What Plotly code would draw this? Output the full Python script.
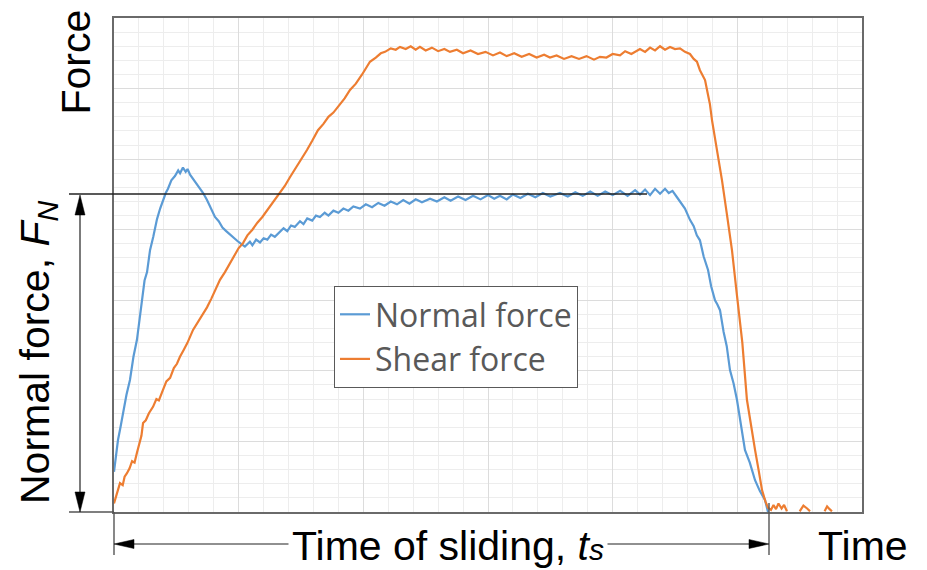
import plotly.graph_objects as go

# ---------------- data ----------------
normal_t = [0.000, 0.016, 0.032, 0.052, 0.072, 0.100, 0.128, 0.156, 0.184, 0.205, 0.225, 0.245,
            0.265, 0.289, 0.315, 0.345, 0.370, 0.393, 0.415, 0.433, 0.460, 0.489, 0.515, 0.530,
            0.553, 0.575, 0.590, 0.610, 0.635, 0.660, 0.690, 0.715, 0.746, 0.775, 0.810, 0.840,
            0.870, 0.900, 0.930, 0.960, 0.990, 1.020, 1.050, 1.067, 1.090, 1.110, 1.140, 1.171,
            1.200, 1.230, 1.260, 1.290, 1.332, 1.360, 1.390, 1.420, 1.450, 1.492, 1.520, 1.550,
            1.590, 1.620, 1.652, 1.690, 1.720, 1.760, 1.800, 1.840, 1.880, 1.920, 1.973, 2.020,
            2.070, 2.120, 2.170, 2.220, 2.270, 2.320, 2.370, 2.420, 2.470, 2.535, 2.590, 2.650,
            2.700, 2.760, 2.820, 2.880, 2.940, 3.000, 3.050, 3.096, 3.150, 3.200, 3.260, 3.320,
            3.380, 3.440, 3.500, 3.577, 3.640, 3.700, 3.760, 3.820, 3.880, 3.940, 4.000, 4.060,
            4.120, 4.180, 4.219, 4.260, 4.300, 4.340, 4.380, 4.420, 4.450, 4.480, 4.516, 4.550,
            4.580, 4.620, 4.650, 4.675, 4.700, 4.730, 4.765, 4.790, 4.821, 4.840, 4.861, 4.890,
            4.915, 4.941, 4.970, 4.997, 5.030, 5.061, 5.100, 5.142, 5.180, 5.222, 5.246]
normal_f = [0.57, 0.78, 1.02, 1.20, 1.40, 1.66, 1.87, 2.20, 2.44, 2.75, 3.00, 3.28,
            3.40, 3.71, 3.90, 4.15, 4.30, 4.42, 4.52, 4.58, 4.70, 4.76, 4.84, 4.80,
            4.88, 4.82, 4.86, 4.78, 4.72, 4.66, 4.58, 4.52, 4.42, 4.30, 4.18, 4.12,
            4.03, 3.98, 3.93, 3.88, 3.84, 3.80, 3.76, 3.79, 3.83, 3.78, 3.86, 3.82,
            3.88, 3.86, 3.93, 3.90, 3.98, 4.02, 3.98, 4.06, 4.04, 4.12, 4.08, 4.16,
            4.13, 4.20, 4.18, 4.24, 4.20, 4.27, 4.24, 4.30, 4.27, 4.33, 4.30, 4.36,
            4.32, 4.38, 4.34, 4.40, 4.36, 4.42, 4.37, 4.43, 4.39, 4.44, 4.40, 4.46,
            4.41, 4.47, 4.42, 4.48, 4.43, 4.49, 4.44, 4.48, 4.43, 4.50, 4.45, 4.51,
            4.46, 4.52, 4.47, 4.52, 4.47, 4.53, 4.48, 4.54, 4.48, 4.54, 4.49, 4.55,
            4.48, 4.56, 4.50, 4.57, 4.49, 4.58, 4.51, 4.58, 4.52, 4.55, 4.46, 4.38,
            4.30, 4.14, 4.05, 3.92, 3.85, 3.62, 3.43, 3.20, 3.00, 2.94, 2.86, 2.55,
            2.35, 2.01, 1.82, 1.59, 1.22, 0.88, 0.70, 0.45, 0.30, 0.17, 0.00]

shear_t = [0.000, 0.008, 0.025, 0.048, 0.070, 0.085, 0.104, 0.125, 0.145, 0.165, 0.184, 0.205,
           0.220, 0.233, 0.255, 0.280, 0.313, 0.340, 0.360, 0.393, 0.420, 0.450, 0.480, 0.505,
           0.529, 0.560, 0.590, 0.634, 0.670, 0.710, 0.746, 0.780, 0.815, 0.850, 0.890, 0.930,
           0.960, 1.000, 1.035, 1.070, 1.110, 1.150, 1.190, 1.230, 1.270, 1.332, 1.370, 1.410,
           1.450, 1.500, 1.548, 1.590, 1.636, 1.680, 1.720, 1.760, 1.813, 1.850, 1.893, 1.940,
           1.990, 2.053, 2.100, 2.140, 2.174, 2.220, 2.260, 2.294, 2.340, 2.380, 2.420, 2.454,
           2.500, 2.550, 2.600, 2.650, 2.695, 2.750, 2.800, 2.860, 2.920, 2.980, 3.040, 3.096,
           3.150, 3.210, 3.270, 3.330, 3.390, 3.450, 3.497, 3.550, 3.610, 3.670, 3.730, 3.790,
           3.850, 3.898, 3.950, 4.000, 4.059, 4.100, 4.150, 4.219, 4.260, 4.300, 4.340, 4.380,
           4.420, 4.460, 4.500, 4.540, 4.580, 4.620, 4.650, 4.676, 4.700, 4.720, 4.741, 4.765,
           4.780, 4.797, 4.837, 4.877, 4.917, 4.957, 4.997, 5.040, 5.077, 5.110, 5.142, 5.170,
           5.198, 5.225, 5.246, 5.270, 5.290, 5.310, 5.330, 5.355, 5.375, 5.398, None,
           5.500, 5.530, 5.560, 5.583, None, 5.700, 5.720, 5.740, 5.759]
shear_f = [0.12, 0.17, 0.30, 0.41, 0.38, 0.50, 0.55, 0.62, 0.72, 0.70, 0.84, 1.00,
           1.08, 1.26, 1.30, 1.40, 1.49, 1.60, 1.58, 1.73, 1.85, 1.90, 2.04, 2.10,
           2.20, 2.30, 2.40, 2.58, 2.68, 2.80, 2.90, 3.02, 3.15, 3.29, 3.40, 3.52,
           3.60, 3.74, 3.81, 3.92, 4.00, 4.10, 4.18, 4.28, 4.38, 4.52, 4.62, 4.74,
           4.85, 5.00, 5.13, 5.26, 5.41, 5.50, 5.60, 5.66, 5.77, 5.86, 5.98, 6.07,
           6.20, 6.38, 6.44, 6.50, 6.52, 6.57, 6.55, 6.59, 6.56, 6.60, 6.55, 6.59,
           6.54, 6.58, 6.53, 6.56, 6.52, 6.55, 6.50, 6.54, 6.49, 6.52, 6.47, 6.51,
           6.46, 6.50, 6.45, 6.49, 6.44, 6.48, 6.44, 6.47, 6.42, 6.46, 6.42, 6.46,
           6.41, 6.45, 6.44, 6.49, 6.47, 6.53, 6.49, 6.56, 6.52, 6.58, 6.54, 6.60,
           6.55, 6.59, 6.56, 6.57, 6.52, 6.49, 6.42, 6.38, 6.26, 6.20, 6.12, 5.91,
           5.78, 5.55, 5.13, 4.70, 4.21, 3.71, 3.07, 2.40, 1.59, 1.20, 0.88, 0.60,
           0.31, 0.15, 0.06, 0.03, 0.10, 0.04, 0.12, 0.05, 0.10, 0.01, None,
           0.01, 0.09, 0.05, 0.01, None, 0.01, 0.08, 0.04, 0.01]

series_names = ["Normal force", "Shear force"]
series_colors = ["#5B9BD5", "#ED7D31"]

# ---------------- figure geometry ----------------
# The page body has an 8px default margin, so the figure is drawn 8px in from the window corner.
OFF = 8
WIN_W, WIN_H = 927, 570
W, H = WIN_W - OFF, WIN_H - OFF
PL, PT, PR, PB = 114, 18, 862, 512          # plot box in window pixels
PW, PH = PR - PL, PB - PT


def px(xp):
    return (xp - PL) / PW


def py(yp):
    return (PB - yp) / PH


fig = go.Figure()
fig.add_trace(go.Scatter(x=normal_t, y=normal_f, mode="lines", name=series_names[0],
                         line=dict(color=series_colors[0], width=2.2)))
fig.add_trace(go.Scatter(x=shear_t, y=shear_f, mode="lines", name=series_names[1],
                         line=dict(color=series_colors[1], width=2.2)))

axis_common = dict(showticklabels=False, ticks="", showline=True, linecolor="#6a6a6a",
                   linewidth=1.5, mirror=True, zeroline=False, showgrid=True,
                   gridcolor="#dcdcdc", gridwidth=1, dtick=1,
                   minor=dict(dtick=0.2, showgrid=True, gridcolor="#ededed", gridwidth=1))
fig.update_xaxes(range=[0, 6], **axis_common)
fig.update_yaxes(range=[0, 7], **axis_common)

shapes = []
line_col = "#222222"


def hline(x0, x1, y, w=1.4, col=line_col):
    shapes.append(dict(type="line", xref="paper", yref="paper", x0=px(x0), x1=px(x1),
                       y0=py(y), y1=py(y), line=dict(color=col, width=w), layer="above"))


def vline(x, y0, y1, w=1.4, col=line_col):
    shapes.append(dict(type="line", xref="paper", yref="paper", x0=px(x), x1=px(x),
                       y0=py(y0), y1=py(y1), line=dict(color=col, width=w), layer="above"))


def tri(pts):
    d = "M " + " L ".join(f"{px(a):.5f},{py(b):.5f}" for a, b in pts) + " Z"
    shapes.append(dict(type="path", xref="paper", yref="paper", path=d,
                       fillcolor="#000000", line=dict(color="#000000", width=0.5), layer="above"))


# F_N reference line and bottom extension
hline(69, 647, 194)
hline(69, 114, 512, col="#555555")
# vertical double arrow (F_N)
vline(80, 205, 500, w=1.2)
tri([(80, 195), (75, 215), (85, 215)])
tri([(80, 512), (75, 492), (85, 492)])
# sliding time markers and arrow
vline(114, 512, 555, col="#555555")
vline(769, 503, 555, col="#555555")
hline(125, 758, 544, w=1.2)
tri([(114, 544), (134, 539.5), (134, 548.5)])
tri([(769, 544), (749, 539.5), (749, 548.5)])

font_main = "Liberation Sans, Arial, sans-serif"
annotations = [
    dict(text="Force", x=px(75.5), y=py(62), textangle=-90),
    dict(text="Normal force, <i>F<sub>N</sub></i>", x=px(38), y=py(352), textangle=-90),
    dict(text="Time of sliding, <i>t<span style='font-size:30px'>s</span></i>",
         x=px(448), y=py(545.5), bgcolor="white", borderpad=3),
    dict(text="Time", x=px(863), y=py(545.5)),
]
for a in annotations:
    a.update(xref="paper", yref="paper", xanchor="center", yanchor="middle", showarrow=False,
             font=dict(family=font_main, size=41, color="#000000"))

fig.update_layout(
    width=W, height=H,
    margin=dict(l=PL - OFF, r=W + OFF - PR, t=PT - OFF, b=H + OFF - PB, pad=0,
                autoexpand=False),
    paper_bgcolor="white", plot_bgcolor="white",
    shapes=shapes, annotations=annotations,
    showlegend=True,
    legend=dict(x=px(334), y=py(286), xanchor="left", yanchor="top",
                bgcolor="white", bordercolor="#595959", borderwidth=1,
                font=dict(family="Open Sans, sans-serif", size=32, color="#595959"),
                itemwidth=30, tracegroupgap=0),
)

fig.write_html("out.html")
